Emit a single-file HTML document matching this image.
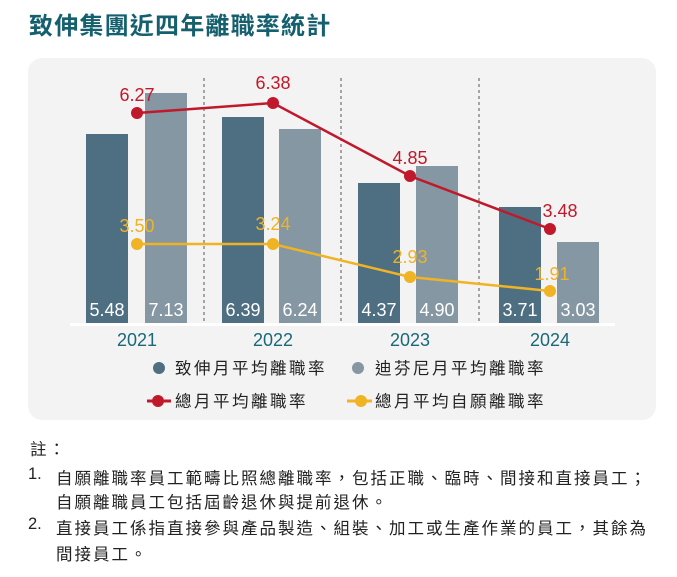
<!DOCTYPE html>
<html><head><meta charset="utf-8"><style>
body{margin:0;background:#fff;width:677px;height:577px;overflow:hidden;font-family:"Liberation Sans","Noto Sans CJK TC",sans-serif;}
.n{position:absolute;font-size:16.5px;color:#222;letter-spacing:2px;white-space:nowrap;}
</style></head><body>
<svg width="677" height="577" style="position:absolute;left:0;top:0" font-family="Liberation Sans, Noto Sans CJK TC, sans-serif">
<text x="29" y="34" font-size="24" font-weight="bold" fill="#15606e" letter-spacing="1.2">致伸集團近四年離職率統計</text>
<rect x="28" y="58" width="628" height="362" rx="14" fill="#f3f3f3"/>
<g stroke="#555" stroke-width="1" stroke-dasharray="3,3">
<line x1="204" y1="78" x2="204" y2="325"/><line x1="341" y1="78" x2="341" y2="325"/><line x1="479" y1="78" x2="479" y2="325"/></g>
<g fill="#4e6f82"><rect x="86" y="134" width="42" height="189"/><rect x="222" y="117" width="42" height="206"/><rect x="358" y="183" width="42" height="141"/><rect x="499" y="207" width="42" height="116"/></g>
<g fill="#8597a3"><rect x="145" y="93" width="42" height="230"/><rect x="279" y="129" width="42" height="194"/><rect x="416" y="166" width="42" height="158"/><rect x="557" y="242" width="42" height="81"/></g>
<rect x="70" y="323" width="545" height="3" fill="#fff"/>
<g fill="#fff" font-size="18" text-anchor="middle">
<text x="107" y="316">5.48</text><text x="166" y="316">7.13</text><text x="243" y="316">6.39</text><text x="300" y="316">6.24</text>
<text x="379" y="316">4.37</text><text x="437" y="316">4.90</text><text x="520" y="316">3.71</text><text x="578" y="316">3.03</text></g>
<polyline points="137,113 273,103 410,176 550,229" fill="none" stroke="#c0192c" stroke-width="2.5"/>
<g fill="#c0192c"><circle cx="137" cy="113" r="6"/><circle cx="273" cy="103" r="6"/><circle cx="410" cy="176" r="6"/><circle cx="550" cy="229" r="6"/></g>
<g fill="#c0192c" font-size="18" text-anchor="middle"><text x="137" y="101">6.27</text><text x="273" y="89">6.38</text><text x="410" y="164">4.85</text><text x="560" y="217">3.48</text></g>
<polyline points="137,244 273,244 410,277 550,291" fill="none" stroke="#f0b323" stroke-width="2.5"/>
<g fill="#f0b323"><circle cx="137" cy="244" r="6"/><circle cx="273" cy="244" r="6"/><circle cx="410" cy="277" r="6"/><circle cx="550" cy="291" r="6"/></g>
<g fill="#f0b323" font-size="18" text-anchor="middle"><text x="137" y="232">3.50</text><text x="273" y="230">3.24</text><text x="410" y="263">2.93</text><text x="552" y="280">1.91</text></g>
<g fill="#1a6878" font-size="18" text-anchor="middle"><text x="137" y="346">2021</text><text x="273" y="346">2022</text><text x="410" y="346">2023</text><text x="550" y="346">2024</text></g>
<g font-size="16.5" fill="#222" letter-spacing="2.5">
<circle cx="159" cy="368" r="6" fill="#4e6f82"/><text x="175" y="374">致伸月平均離職率</text>
<circle cx="358" cy="368" r="6" fill="#8597a3"/><text x="375" y="374">迪芬尼月平均離職率</text>
<line x1="147" y1="401" x2="171" y2="401" stroke="#c0192c" stroke-width="3"/><circle cx="158" cy="401" r="6" fill="#c0192c"/><text x="175" y="407">總月平均離職率</text>
<line x1="347" y1="401" x2="372" y2="401" stroke="#f0b323" stroke-width="3"/><circle cx="361" cy="401" r="6" fill="#f0b323"/><text x="375" y="407">總月平均自願離職率</text>
</g>
</svg>
<div class="n" style="left:30px;top:436px">註：</div>
<div class="n" style="left:28px;top:465px;letter-spacing:0">1.</div>
<div class="n" style="left:56px;top:465px">自願離職率員工範疇比照總離職率，包括正職、臨時、間接和直接員工；</div>
<div class="n" style="left:56px;top:489px">自願離職員工包括屆齡退休與提前退休。</div>
<div class="n" style="left:28px;top:515px;letter-spacing:0">2.</div>
<div class="n" style="left:56px;top:515px">直接員工係指直接參與產品製造、組裝、加工或生產作業的員工，其餘為</div>
<div class="n" style="left:56px;top:541px">間接員工。</div>
</body></html>
